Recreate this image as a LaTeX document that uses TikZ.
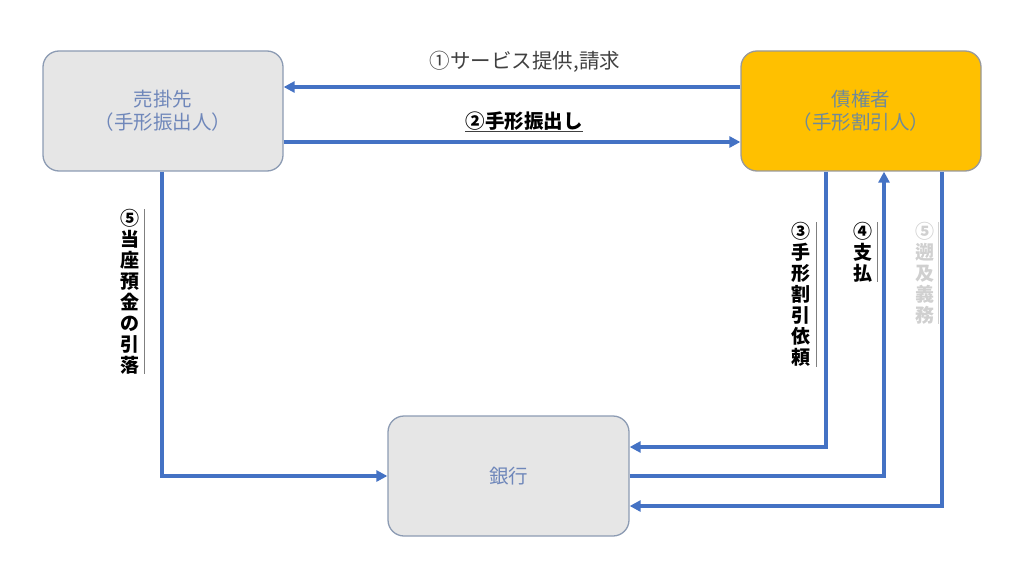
\documentclass[tikz,border=0pt]{standalone}
\usepackage{fontspec}
\setmainfont{Noto Sans CJK JP}
\usetikzlibrary{arrows.meta}
\definecolor{lineblue}{HTML}{4472C4}
\definecolor{boxgray}{HTML}{E6E6E6}
\definecolor{boxborder}{HTML}{8C9BB3}
\definecolor{boxtext}{HTML}{6F87BA}
\definecolor{orangefill}{HTML}{FFC000}
\definecolor{orangetext}{HTML}{6F8A9A}
\definecolor{labelgray}{HTML}{404040}
\definecolor{fadedgray}{HTML}{D0D0D0}
\begin{document}
\begin{tikzpicture}[x=1pt,y=-1pt,
  box/.style={draw=boxborder, line width=1.3pt, rounded corners=16pt, fill=boxgray,
    minimum width=240pt, minimum height=120pt, align=center, text=boxtext,
    font=\fontsize{19.5}{23}\selectfont},
  conn/.style={draw=lineblue, line width=3.2pt, -{Triangle[length=11pt,width=11pt]}},
  vlabel/.style={anchor=north, inner sep=0pt, align=center,
    font=\bfseries\fontsize{19}{21}\selectfont},
  rulebar/.style={draw=#1, line width=0.9pt}
]
\useasboundingbox (0,0) rectangle (1024,580);

% boxes
\node[box] (b1) at (163,111) {売掛先\\（手形振出人）};
\node[box, fill=orangefill, draw=gray!80, text=orangetext] (b2) at (861,111) {債権者\\（手形割引人）};
\node[box, minimum width=241pt] (b3) at (508.5,476) {銀行};

% top connectors
\draw[conn] ([yshift=24pt]b2.west) -- ([yshift=24pt]b1.east);
\draw[conn] ([yshift=-31pt]b1.east) -- ([yshift=-31pt]b2.west);

% top labels
\node[text=labelgray, font=\fontsize{20.5}{24}\selectfont] (l1) at (525,62) {①サービス提供,請求};
\node[inner sep=0pt, font=\bfseries\fontsize{19.5}{23}\selectfont] (l2) at (524,121) {②手形振出し};
\draw[rulebar=labelgray] ([yshift=-3pt]l2.base west) -- ([yshift=-3pt]l2.base east);

% left vertical connector
\draw[conn] ([xshift=-1pt]b1.south) |- (b3.west);
% right connectors
\draw[conn] ([xshift=-35pt]b2.south) |- ([yshift=29pt]b3.east);
\draw[conn] (b3.east) -| ([xshift=23pt]b2.south);
\draw[conn] ([xshift=81pt]b2.south) |- ([yshift=-30pt]b3.east);

% vertical labels
\node[vlabel] (v5) at (130,209) {⑤\\当\\座\\預\\金\\の\\引\\落};
\draw[rulebar=gray] ([xshift=5pt]v5.north east) -- ([xshift=5pt]v5.south east);

\node[vlabel] (v3) at (801,222) {③\\手\\形\\割\\引\\依\\頼};
\draw[rulebar=gray] ([xshift=6pt]v3.north east) -- ([xshift=6pt]v3.south east);

\node[vlabel] (v4) at (863,222) {④\\支\\払};
\draw[rulebar=gray] ([xshift=5pt]v4.north east) -- ([xshift=5pt]v4.south east);

\node[vlabel, text=fadedgray] (v6) at (925,222) {⑤\\遡\\及\\義\\務};
\draw[rulebar=fadedgray] ([xshift=4pt]v6.north east) -- ([xshift=4pt]v6.south east);
\end{tikzpicture}
\end{document}
